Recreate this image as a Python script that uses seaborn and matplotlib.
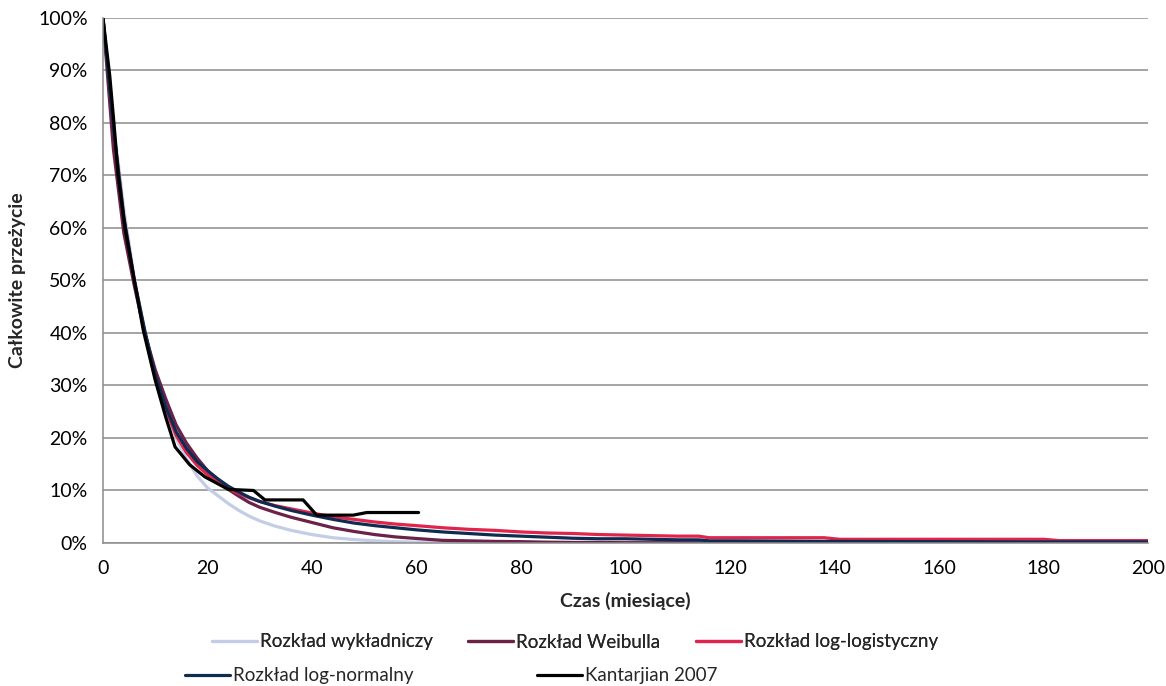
import matplotlib
matplotlib.use("Agg")
import matplotlib.pyplot as plt
import seaborn as sns
from matplotlib.ticker import PercentFormatter, MultipleLocator

# ---- data (percent survival vs months) ----
months = [0, 2, 4, 6, 8, 10, 12, 14, 16, 18, 20, 22, 24, 26, 28, 30, 33, 36, 40,
          44, 48, 52, 56, 60, 65, 70, 75, 80, 85, 90, 95, 100, 105, 110, 114, 116,
          120, 130, 138, 141, 160, 180, 183, 190, 200]

exp_vals = [100, 80, 63.5, 50.5, 40, 32, 25.3, 20, 16, 12.8, 10.5, 9.0, 7.5, 6.2, 5.1,
            4.2, 3.2, 2.4, 1.6, 1.0, 0.65, 0.4, 0.25, 0.15, 0.1, 0.05, 0, 0, 0, 0, 0,
            0, 0, 0, 0, 0, 0, 0, 0, 0, 0, 0, 0, 0, 0]

weibull_vals = [100, 75, 59, 49, 40, 33, 27.5, 22.5, 19, 16.2, 13.8, 11.8, 10.2, 8.9,
                7.7, 6.8, 5.8, 4.9, 3.9, 2.9, 2.2, 1.6, 1.15, 0.85, 0.5, 0.4, 0.3,
                0.25, 0.15, 0.1, 0.1, 0.05, 0.05, 0.05, 0.05, 0, 0, 0, 0, 0, 0, 0, 0,
                0, 0]

loglog_vals = [100, 79, 62, 50, 40, 31.5, 25.5, 20.5, 17.2, 14.8, 13, 11.6, 10.4, 9.4,
               8.6, 7.9, 7.1, 6.5, 5.7, 5.0, 4.5, 4.0, 3.6, 3.3, 2.9, 2.6, 2.4, 2.1,
               1.9, 1.8, 1.6, 1.5, 1.4, 1.3, 1.3, 1.0, 1.0, 1.0, 1.0, 0.7, 0.7, 0.7,
               0.45, 0.45, 0.45]

lognorm_vals = [100, 79, 62, 50, 40.5, 32, 26, 21.2, 18, 15.5, 13.8, 12.2, 10.8, 9.7,
                8.7, 7.9, 7.0, 6.2, 5.3, 4.5, 3.8, 3.3, 2.9, 2.5, 2.1, 1.8, 1.5, 1.3,
                1.1, 0.9, 0.8, 0.8, 0.7, 0.6, 0.6, 0.4, 0.4, 0.35, 0.3, 0.3, 0.25,
                0.2, 0.2, 0.2, 0.2]

kant_months = [0, 1.3, 2.1, 2.9, 4.2, 6, 7.7, 10, 12, 13.8, 16.6, 19.5, 24, 28.8, 31,
               38.3, 40.9, 47.9, 50.5, 60.4]
kant_vals = [100, 89, 80, 70, 60, 50, 40.6, 31, 24, 18.3, 14.9, 12.6, 10.2, 10, 8.2,
             8.2, 5.3, 5.3, 5.8, 5.8]

labels = ["Rozkład wykładniczy", "Rozkład Weibulla", "Rozkład log-logistyczny",
          "Rozkład log-normalny", "Kantarjian 2007"]
colors = ["#C3CDE6", "#6B2148", "#E0244B", "#0E2B52", "#000000"]

# ---- style ----
sns.set_style("white")
plt.rcParams["font.family"] = ["Lato", "DejaVu Sans"]

fig = plt.figure(figsize=(11.66, 6.86), dpi=100)
ax = fig.add_axes([0.0883, 0.2085, 0.8963, 0.7653])

series = [exp_vals, weibull_vals, loglog_vals, lognorm_vals]
for vals, lab, col in zip(series, labels[:4], colors[:4]):
    sns.lineplot(x=months, y=vals, ax=ax, color=col, lw=2.3, label=lab,
                 solid_joinstyle="round", solid_capstyle="round")
sns.lineplot(x=kant_months, y=kant_vals, ax=ax, color=colors[4], lw=2.3,
             label=labels[4], solid_joinstyle="round", sort=False)

ax.set_xlim(0, 200)
ax.set_ylim(0, 100)
ax.xaxis.set_major_locator(MultipleLocator(20))
ax.yaxis.set_major_locator(MultipleLocator(10))
ax.yaxis.set_major_formatter(PercentFormatter(decimals=0))
ax.grid(axis="y", color="#8C8C8C", lw=1.1)
ax.grid(axis="x", visible=False)
ax.set_axisbelow(True)
for s in ["top", "right"]:
    ax.spines[s].set_visible(False)
for s in ["left", "bottom"]:
    ax.spines[s].set_color("#8C8C8C")
    ax.spines[s].set_linewidth(1.1)
ax.tick_params(axis="both", direction="out", length=5, width=1, color="#8C8C8C",
               labelsize=14, labelcolor="#000000", pad=6)
ax.tick_params(axis="x", pad=7)

ax.set_xlabel("Czas (miesiące)", fontsize=14, fontweight="bold", labelpad=11)
ax.set_ylabel("Całkowite przeżycie", fontsize=14, fontweight="bold", labelpad=9)

handles, labs = ax.get_legend_handles_labels()
ax.get_legend().remove()

kw = dict(frameon=False, fontsize=13.5, handlelength=2.4, handletextpad=0.15,
          borderaxespad=0, borderpad=0)
leg1 = fig.legend(handles[:3], labs[:3], ncol=3, loc="center left",
                  bbox_to_anchor=(212 / 1166, 1 - 642 / 686), columnspacing=1.9, **kw)
leg2 = fig.legend(handles[3:], labs[3:], ncol=2, loc="center left",
                  bbox_to_anchor=(185 / 1166, 1 - 676 / 686), columnspacing=6.6, **kw)
fig.add_artist(leg1)

fig.savefig("out.png", dpi=100)
